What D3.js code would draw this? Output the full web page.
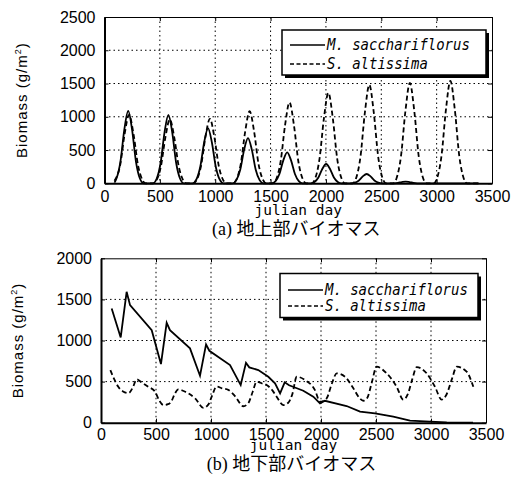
<!DOCTYPE html>
<html>
<head>
<meta charset="utf-8">
<script src="https://cdn.jsdelivr.net/npm/d3@7/dist/d3.min.js"></script>
<style>
  body { margin: 0; background: #fff; }
  svg { display: block; }
</style>
</head>
<body>
<div id="wrapper"></div>
<script>
// ---- data ----
const xTicks = [0, 500, 1000, 1500, 2000, 2500, 3000, 3500];
const yTicksA = [0, 500, 1000, 1500, 2000, 2500];
const yTicksB = [0, 500, 1000, 1500, 2000];
const seriesNames = ['M. sacchariflorus', 'S. altissima'];

// (a) above-ground, M. sacchariflorus
const aboveDaysM = [90,109,144,179,214,249,284,319,354,
  437,472,507,542,577,612,647,682,717,
  795,830,865,900,935,970,1005,1040,1075,
  1156,1191,1226,1261,1296,1331,1366,1401,1436,
  1510,1545,1580,1615,1650,1685,1720,1755,1790,
  1862,1897,1932,1967,2002,2037,2072,2107,2142,
  2228,2263,2298,2333,2368,2403,2438,2473,2508,
  2580,2650,2685,2720,2755,2790,2860,3380];
const aboveM = [10,76,327,807,1090,807,327,76,0,
  0,72,309,762,1030,762,309,72,0,
  0,58,249,614,830,614,249,58,0,
  0,48,204,503,680,503,204,48,0,
  0,33,140,344,465,344,140,33,0,
  0,20,87,215,290,215,87,20,0,
  0,10,42,104,140,104,42,10,0,
  0,8,18,25,18,8,0,0];

// (a) above-ground, S. altissima
const aboveDaysS = [90,142,182,222,262,302,342,372,
  440,470,510,550,590,630,670,710,740,
  802,832,872,912,952,992,1032,1072,1102,
  1161,1191,1231,1271,1311,1351,1391,1431,1461,
  1521,1551,1591,1631,1671,1711,1751,1791,1821,
  1872,1902,1942,1982,2022,2062,2102,2142,2172,
  2242,2272,2312,2352,2392,2432,2472,2512,2542,
  2608,2638,2678,2718,2758,2798,2838,2878,2908,
  2974,3004,3044,3084,3124,3164,3204,3244,3274,3380];
const aboveS = [40,278,742,1030,742,278,52,0,
  0,48,259,691,960,691,259,48,0,
  0,49,262,698,970,698,262,49,0,
  0,54,293,781,1085,781,293,54,0,
  0,61,328,875,1215,875,328,61,0,
  0,68,367,979,1360,979,367,68,0,
  0,74,400,1066,1480,1066,400,74,0,
  0,76,408,1087,1510,1087,408,76,0,
  0,77,416,1109,1540,1109,416,77,0,0];

// (b) below-ground, M. sacchariflorus
const belowDaysM = [97,179,233,264,461,545,597,627,809,900,955,985,1173,1270,1318,1348,
  1430,1521,1582,1628,1670,1710,1839,1930,1991,2036,2233,2355,2491,2657,2809,2991,3143,3382];
const belowM = [1390,1037,1592,1430,1126,713,1215,1126,904,571,953,875,701,458,729,673,
  640,559,479,357,491,455,389,316,236,267,203,134,114,73,24,12,3,0];

// (b) below-ground, S. altissima
const belowDaysS = [85,120,157,200,250,290,324,370,430,490,530,567,610,640,670,703,760,794,
  860,930,975,1010,1050,1100,1157,1220,1294,1340,1380,1415,1460,1506,1560,1597,1657,1700,
  1740,1779,1855,1945,1991,2030,2052,2100,2142,2218,2294,2350,2385,2420,2460,2506,2597,
  2688,2748,2790,2830,2870,2961,3036,3097,3140,3190,3234,3324,3385];
const belowS = [640,530,437,380,360,430,527,490,437,380,270,215,225,260,350,405,380,357,
  290,180,220,330,440,418,400,320,200,240,380,498,480,458,390,316,215,240,
  350,559,519,397,255,270,296,480,600,559,418,300,267,300,480,681,600,
  437,280,350,530,675,600,437,280,340,530,681,620,437];

const width = 520, height = 477;
const tickFont = '"Liberation Sans", Arial, sans-serif';
const monoFont = '"DejaVu Sans Mono", "Liberation Mono", monospace';
const jpFont = '"Noto Sans CJK JP", sans-serif';

let svg = d3.select('div#wrapper')
  .append('svg')
  .attr('width', width)
  .attr('height', height)
  .attr('viewBox', '0 0 ' + width + ' ' + height);

function drawPanel(p) {
  let x = d3.scaleLinear().domain([0, 3500]).range([p.left, p.right]);
  let y = d3.scaleLinear().domain([0, p.yMax]).range([p.bottom, p.top]);
  let g = svg.append('g');

  // dotted grid
  g.selectAll('line.gx').data(xTicks.slice(1, -1)).enter().append('line')
    .attr('x1', d => x(d)).attr('x2', d => x(d))
    .attr('y1', p.top).attr('y2', p.bottom)
    .attr('stroke', '#000').attr('stroke-width', 1)
    .attr('stroke-dasharray', '1.5,3');
  g.selectAll('line.gy').data(p.yTicks.slice(1, -1)).enter().append('line')
    .attr('x1', p.left).attr('x2', p.right)
    .attr('y1', d => y(d)).attr('y2', d => y(d))
    .attr('stroke', '#000').attr('stroke-width', 1)
    .attr('stroke-dasharray', '1.5,3');

  // axes with inward ticks
  let fmt = d3.format('d');
  let xAxis = d3.axisBottom(x).tickValues(xTicks).tickFormat(fmt)
    .tickSizeInner(-4).tickSizeOuter(0).tickPadding(p.xPad);
  let yAxis = d3.axisLeft(y).tickValues(p.yTicks).tickFormat(fmt)
    .tickSizeInner(-4).tickSizeOuter(0).tickPadding(9);
  let xTop = d3.axisTop(x).tickValues(xTicks).tickSizeInner(-4).tickSizeOuter(0).tickFormat('');
  let yRight = d3.axisRight(y).tickValues(p.yTicks).tickSizeInner(-4).tickSizeOuter(0).tickFormat('');

  let gx = g.append('g').attr('transform', 'translate(0,' + p.bottom + ')').call(xAxis);
  let gy = g.append('g').attr('transform', 'translate(' + p.left + ',0)').call(yAxis);
  g.append('g').attr('transform', 'translate(0,' + p.top + ')').call(xTop);
  g.append('g').attr('transform', 'translate(' + p.right + ',0)').call(yRight);

  [gx, gy].forEach(a => a.selectAll('text')
    .attr('font-family', tickFont).attr('font-size', 16).attr('fill', '#000'));
  gx.select('.domain').attr('stroke-width', 2);
  gy.select('.domain').attr('stroke-width', 2);
  g.selectAll('.domain').attr('stroke', '#000');
  g.selectAll('.tick line').attr('stroke', '#000');

  // series
  let lineM = d3.line().x(d => x(d[0])).y(d => y(d[1])).curve(p.curveM);
  let lineS = d3.line().x(d => x(d[0])).y(d => y(d[1])).curve(d3.curveMonotoneX);
  g.append('path').datum(d3.zip(p.daysS, p.valsS)).attr('d', lineS)
    .attr('fill', 'none').attr('stroke', '#000').attr('stroke-width', 1.8)
    .attr('stroke-dasharray', '5,3');
  g.append('path').datum(d3.zip(p.daysM, p.valsM)).attr('d', lineM)
    .attr('fill', 'none').attr('stroke', '#000').attr('stroke-width', 1.8);

  // legend
  let lg = g.append('g');
  lg.append('rect').attr('x', p.leg.x + 3).attr('y', p.leg.y + 3)
    .attr('width', p.leg.w).attr('height', p.leg.h).attr('fill', '#000');
  lg.append('rect').attr('x', p.leg.x).attr('y', p.leg.y)
    .attr('width', p.leg.w).attr('height', p.leg.h)
    .attr('fill', '#fff').attr('stroke', '#000').attr('stroke-width', 1.5);
  seriesNames.forEach(function (name, i) {
    let by = p.leg.y + p.leg.row0 + i * p.leg.gap;
    lg.append('line').attr('x1', p.leg.x + 8).attr('x2', p.leg.x + 43)
      .attr('y1', by - 5).attr('y2', by - 5)
      .attr('stroke', '#000').attr('stroke-width', 1.5)
      .attr('stroke-dasharray', i ? '4,2.5' : null);
    lg.append('text').attr('x', p.leg.x + 45).attr('y', by)
      .attr('font-family', monoFont).attr('font-style', 'italic')
      .attr('font-size', 15.5)
      .attr('textLength', name.length * 8.4).attr('lengthAdjust', 'spacingAndGlyphs')
      .text(name);
  });

  // x label and caption
  let cx = (p.left + p.right) / 2;
  g.append('text').attr('x', cx).attr('y', p.xLabY)
    .attr('text-anchor', 'middle').attr('font-family', monoFont).attr('font-size', 14.5)
    .text('julian day');
  let cap = g.append('text').attr('x', cx - 2).attr('y', p.capY)
    .attr('text-anchor', 'middle').attr('font-family', jpFont).attr('font-size', 18);
  cap.append('tspan').attr('font-family', '"Liberation Serif", serif').text(p.tag + ' ');
  cap.append('tspan').text(p.caption);

  // y label
  let ylab = g.append('text')
    .attr('transform', 'translate(' + (p.left - 78) + ',' + ((p.top + p.bottom) / 2) + ') rotate(-90)')
    .attr('text-anchor', 'middle').attr('font-family', tickFont).attr('font-size', 15)
    .attr('letter-spacing', 1);
  ylab.append('tspan').text('Biomass (g/m');
  ylab.append('tspan').attr('font-size', 9).attr('dy', -6).text('2');
  ylab.append('tspan').attr('dy', 6).text(')');
}

drawPanel({
  left: 104.5, right: 492, top: 17, bottom: 183.3, yMax: 2500, yTicks: yTicksA,
  daysM: aboveDaysM, valsM: aboveM, daysS: aboveDaysS, valsS: aboveS,
  curveM: d3.curveMonotoneX, xPad: 7, xLabY: 214.5, capY: 235,
  leg: { x: 282, y: 30, w: 204, h: 45, row0: 20, gap: 19 },
  tag: '(a)', caption: '地上部バイオマス'
});

drawPanel({
  left: 101, right: 486, top: 258.3, bottom: 422.7, yMax: 2000, yTicks: yTicksB,
  daysM: belowDaysM, valsM: belowM, daysS: belowDaysS, valsS: belowS,
  curveM: d3.curveLinear, xPad: 6, xLabY: 450, capY: 469.5,
  leg: { x: 280, y: 273.5, w: 198, h: 44, row0: 21.5, gap: 16 },
  tag: '(b)', caption: '地下部バイオマス'
});
</script>
</body>
</html>
